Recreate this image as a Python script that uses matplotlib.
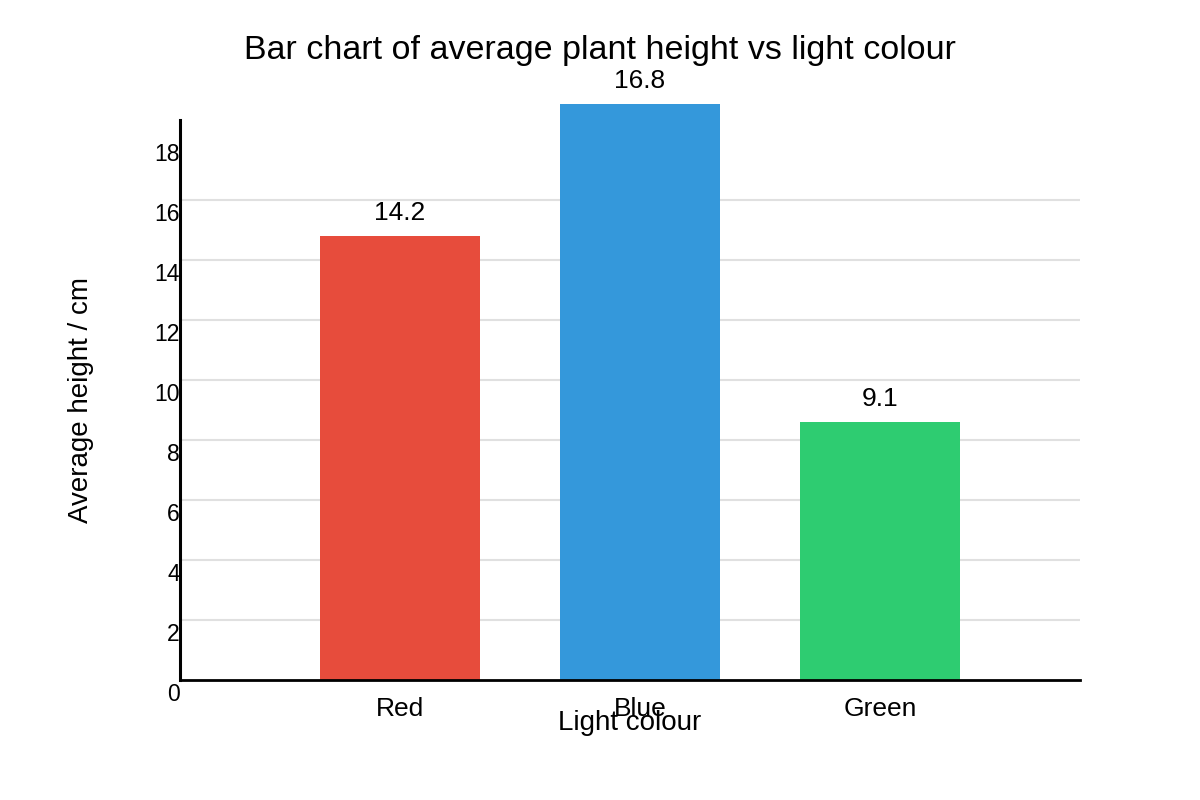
import matplotlib
matplotlib.use("Agg")
import matplotlib.pyplot as plt
import matplotlib.transforms as mtransforms

plt.rcParams['font.family'] = ['Liberation Sans', 'DejaVu Sans']

categories = ["Red", "Blue", "Green"]
bar_heights = [14.8, 19.2, 8.6]          # drawn heights
value_labels = ["14.2", "16.8", "9.1"]   # annotated values
bar_colors = ["#E74C3C", "#3498DB", "#2ECC71"]
y_ticks = [0, 2, 4, 6, 8, 10, 12, 14, 16, 18]
grid_values = [2, 4, 6, 8, 10, 12, 14, 16]

fig = plt.figure(figsize=(12, 8), dpi=100)
ax = fig.add_axes([0.15, 0.15, 0.75, 0.70])

x = list(range(len(categories)))
ax.set_xlim(-0.9167, 2.8333)
ax.set_ylim(0, 18.667)

ax.hlines(grid_values, -0.9167, 2.8333, colors="#e0e0e0", linewidth=1.5, zorder=1)

bars = ax.bar(x, bar_heights, width=0.6667, color=bar_colors, zorder=2, clip_on=False)

for xi, h, lab in zip(x, bar_heights, value_labels):
    ax.annotate(lab, (xi, h), xytext=(0, 16.8), textcoords="offset points",
                ha="center", va="center", fontsize=19, annotation_clip=False)

for s in ["top", "right"]:
    ax.spines[s].set_visible(False)
ax.spines["left"].set_linewidth(2.2)
ax.spines["bottom"].set_linewidth(2.0)
ax.spines["left"].set_zorder(3)
ax.spines["bottom"].set_zorder(3)

ax.set_xticks(x)
ax.set_xticklabels(categories, fontsize=19)
ax.tick_params(axis="x", length=0, pad=12)

ax.set_yticks(y_ticks)
ax.set_yticklabels([str(v) for v in y_ticks], fontsize=16.5)
ax.tick_params(axis="y", length=0, pad=0)
off = mtransforms.ScaledTranslation(0, -12 / 100, fig.dpi_scale_trans)
for lbl in ax.get_yticklabels():
    lbl.set_transform(lbl.get_transform() + off)

ax.set_xlabel("Light colour", fontsize=20, va="center")
ax.xaxis.set_label_coords(0.5, -43 / 560)
ax.set_ylabel("Average height / cm", fontsize=20, va="center")
ax.yaxis.set_label_coords(-99 / 900, 0.5)

fig.text(0.5, 1 - 51 / 800, "Bar chart of average plant height vs light colour",
         ha="center", va="center", fontsize=24.5)

fig.savefig("out.png", dpi=100, facecolor="white")
